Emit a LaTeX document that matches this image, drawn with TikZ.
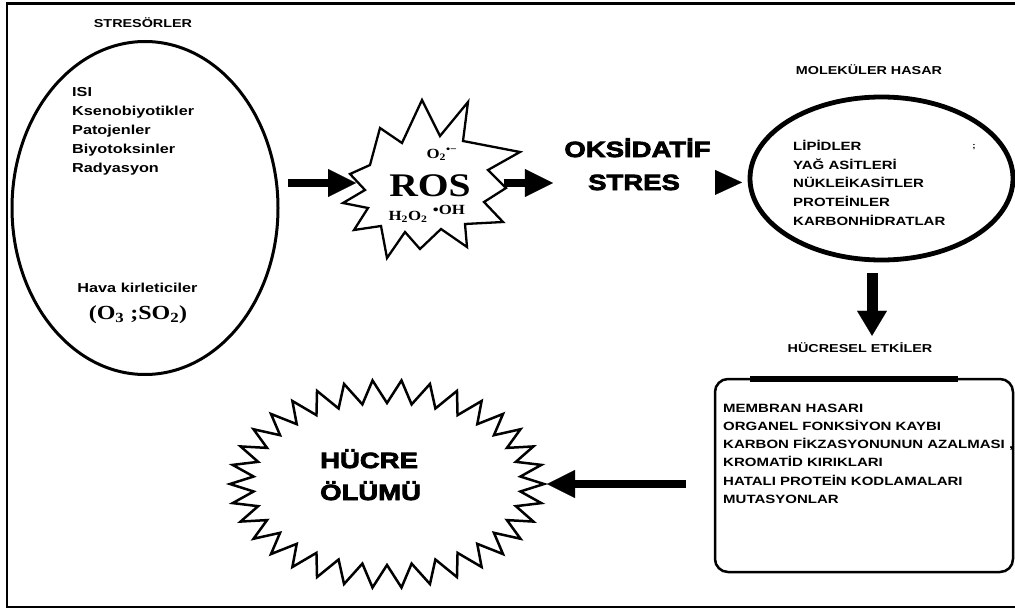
\documentclass[tikz,border=0pt]{standalone}
\usepackage{fontspec}
\setmainfont{Liberation Sans}[FakeStretch=1.25]
\newfontfamily\srf{Liberation Serif}[FakeStretch=1.2]
\newfontfamily\hvy{Liberation Sans}[FakeStretch=1.25,FakeBold=3.5]
\usetikzlibrary{arrows.meta,shapes.geometric}
\newcommand\lst[1]{\begin{tabular}[t]{@{}l@{}}#1\end{tabular}}
\begin{document}
\begin{tikzpicture}[x=1pt,y=-1pt,
  lbl/.style={inner sep=0pt, anchor=base, font=\bfseries\fontsize{11.5}{14}\selectfont},
  listA/.style={inner sep=0pt, anchor=base west, font=\bfseries\fontsize{13}{19}\selectfont},
  listB/.style={inner sep=0pt, anchor=base west, font=\bfseries\fontsize{12}{18.7}\selectfont},
  listC/.style={inner sep=0pt, anchor=base west, font=\bfseries\fontsize{12}{18.2}\selectfont},
  heavytxt/.style={inner sep=0pt, anchor=base, font=\hvy\bfseries\fontsize{22}{32}\selectfont},
  chem/.style={inner sep=0pt, anchor=base, font=\srf\bfseries\fontsize{14}{16}\selectfont},
  hidden/.style={ellipse, draw=none, inner sep=0pt, outer sep=0pt},
  bigarrow/.style={line width=8pt, -{Triangle[length=28pt,width=28pt,line width=0.1pt]}},
  downarrow/.style={line width=11pt, -{Triangle[length=25pt,width=30pt,line width=0.1pt]}},
  tiparrow/.style={line width=1pt, -{Triangle[length=27pt,width=25pt,line width=0.1pt]}},
  starline/.style={line width=2.3pt, line join=miter},
]
\useasboundingbox (0,0) rectangle (1015,610);
% frame
\draw[line width=2.7pt] (1016,3.5) -- (7,3.5) -- (7,607) -- (1016,607);

% stressors
\node[ellipse, draw, line width=3pt, outer sep=0pt, minimum width=266pt, minimum height=333pt] (stress) at (145,208) {};
\node[lbl] (stresT) at (143,27.3) {STRESÖRLER};
\node[listA] (stresL) at (72,96) {\lst{ISI\\Ksenobiyotikler\\Patojenler\\Biyotoksinler\\Radyasyon}};
\node[inner sep=0pt, anchor=base, font=\bfseries\fontsize{13}{15}\selectfont] (hava) at (137.5,292.6) {Hava kirleticiler};
\node[inner sep=0pt, anchor=base, font=\srf\bfseries\fontsize{20}{22}\selectfont] (ozon) at (138,319.6) {(O\textsubscript{3} ;SO\textsubscript{2})};

% ROS starburst
\draw[starline] (468,102) -- (463,141) -- (520,152) -- (488,170) -- (506,188) -- (484,202)
  -- (503,222) -- (465,224) -- (467,247) -- (441,229) -- (420,249) -- (405,232)
  -- (387,258) -- (381,226) -- (354,230) -- (368,208) -- (343,203) -- (365,190)
  -- (350,174) -- (370,165) -- (380,128) -- (402,143) -- (422,100) -- (440,136) -- cycle;
\node[hidden, minimum width=148pt, minimum height=156pt] (ros) at (430,183) {};
\node[inner sep=0pt, anchor=base, font=\srf\bfseries\fontsize{33}{36}\selectfont] (rosT) at (430,196.5) {ROS};
\node[chem] (o2) at (442,158) {O\textsubscript{2}\textsuperscript{•−}};
\node[chem] (h2o2) at (408,220) {H\textsubscript{2}O\textsubscript{2}};
\node[chem] (oh) at (449,214.5) {•OH};

% oxidative stress
\node[heavytxt] (oks) at (637.5,157) {OKSİDATİF};
\node[heavytxt] (stres) at (634,190) {STRES};

% molecular damage
\node[lbl] (molT) at (869,74.3) {MOLEKÜLER HASAR};
\node[ellipse, draw, line width=4.8pt, outer sep=0pt, minimum width=263pt, minimum height=163pt] (mol) at (881.5,178.5) {};
\node[listB] (molL) at (793,150.3) {\lst{LİPİDLER\\YAĞ ASİTLERİ\\NÜKLEİKASİTLER\\PROTEİNLER\\KARBONHİDRATLAR}};
\node[inner sep=0pt, font=\bfseries\fontsize{8}{9}\selectfont] (stray) at (974,147) {;};

% cellular effects
\node[lbl] (hl) at (860,352.3) {HÜCRESEL ETKİLER};
\node[draw, rectangle, rounded corners=13pt, line width=2.5pt, outer sep=0pt, minimum width=298pt, minimum height=193pt] (box) at (864,475.5) {};
\draw[line width=5.5pt] ([xshift=-114pt]box.north) -- ([xshift=94pt]box.north);
\node[listC] (boxL) at (723,412.3) {\lst{MEMBRAN HASARI\\ORGANEL FONKSİYON KAYBI\\KARBON FİKZASYONUNUN AZALMASI ,\\KROMATİD KIRIKLARI\\HATALI PROTEİN KODLAMALARI\\MUTASYONLAR}};

% cell death starburst
\draw[line width=2.5pt, line join=miter] plot[samples at={0,...,67}, variable=\k]
  ({387+(145.5+11.5*cos(180*\k))*cos(\k*180/34)}, {484+(92.5+11.5*cos(180*\k))*sin(\k*180/34)}) -- cycle;
\node[hidden, minimum width=314pt, minimum height=208pt] (death) at (387,484) {};
\node[inner sep=0pt, anchor=base west, font=\hvy\bfseries\fontsize{22}{32}\selectfont] (deathT) at (320,468) {\lst{HÜCRE\\ÖLÜMÜ}};

% connectors
\draw[bigarrow, shorten <=10pt] (stress.east |- ros.west) -- (ros.west);
\draw[bigarrow, shorten >=35pt] (ros.east) -- (ros.east -| stres.west);
\draw[tiparrow, shorten <=35pt, shorten >=8pt] (stres.east) -- (stres.east -| mol.west);
\draw[downarrow, shorten <=13pt, shorten >=6.5pt] ([xshift=-9.5pt]mol.south) -- ([xshift=12pt]hl.north);
\draw[bigarrow, shorten <=29pt, shorten >=3pt] (box.west |- death.east) -- (death.east);
\end{tikzpicture}
\end{document}
